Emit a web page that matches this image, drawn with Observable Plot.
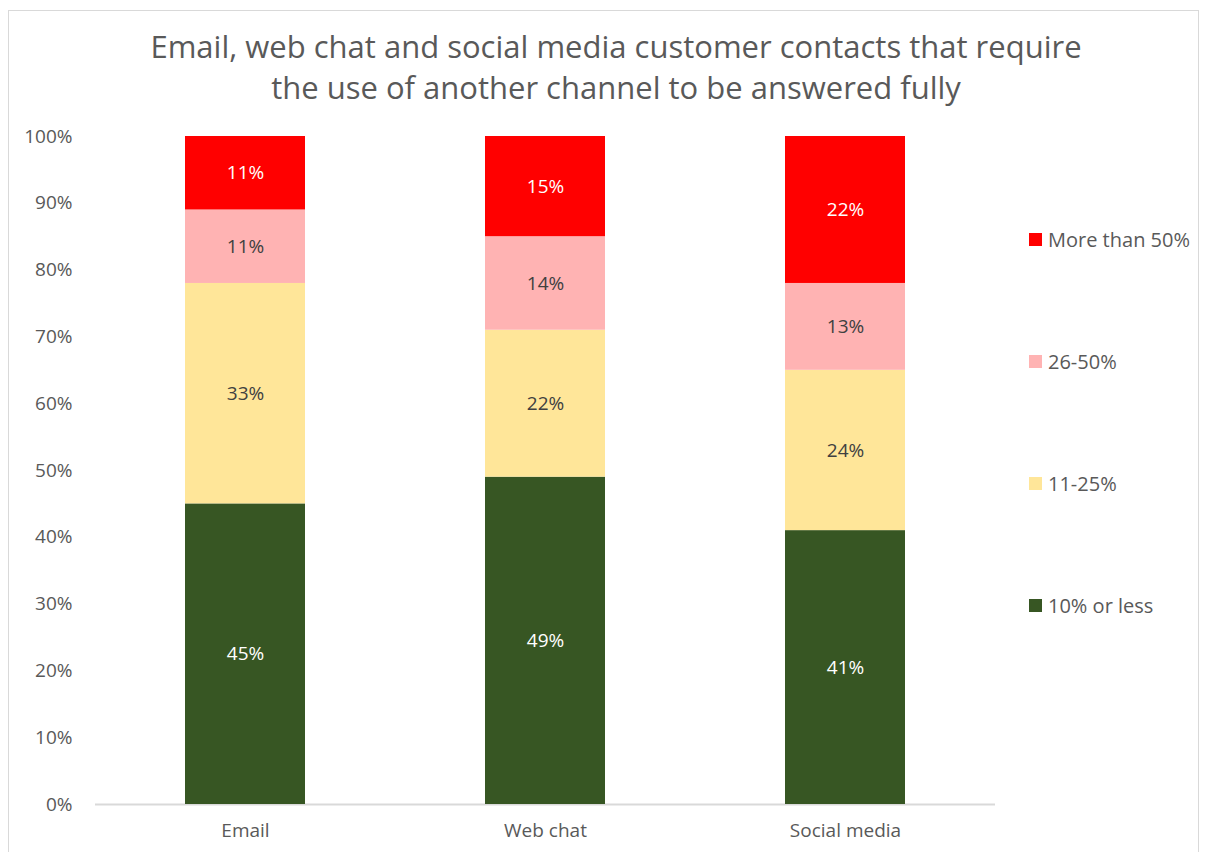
<!DOCTYPE html>
<html>
<head>
<meta charset="utf-8">
<script src="https://cdn.jsdelivr.net/npm/d3@7"></script>
<script src="https://cdn.jsdelivr.net/npm/@observablehq/plot@0.6"></script>
<style>
  html, body { margin: 0; padding: 0; background: #fff; }
  body { width: 1206px; height: 852px; position: relative; overflow: hidden; font-family: "Open Sans", sans-serif; color: #595959; }
  #frame { position: absolute; left: 8px; top: 10px; width: 1191px; height: 900px; border: 1px solid #d9d9d9; box-sizing: border-box; }
  #title { position: absolute; left: 0; top: 26px; width: 1232px; text-align: center; font-size: 31px; line-height: 41px; color: #595959; }
  #chart { position: absolute; left: 0; top: 120px; }
  #legend { position: absolute; left: 1029px; top: 0; }
  .item { position: absolute; left: 0; white-space: nowrap; font-size: 20px; display: flex; align-items: center; }
  .sw { width: 13px; height: 13px; margin-right: 6px; }
</style>
</head>
<body>
<div id="frame"></div>
<div id="title">Email, web chat and social media customer contacts that require<br>the use of another channel to be answered fully</div>
<div id="chart"></div>
<div id="legend"></div>
<script>
const categories = ["Email", "Web chat", "Social media"];
const seriesNames = ["10% or less", "11-25%", "26-50%", "More than 50%"];
const tenOrLess = [45, 49, 41];
const elevenTo25 = [33, 22, 24];
const twentySixTo50 = [11, 14, 13];
const moreThan50 = [11, 15, 22];
const seriesColors = ["#375623", "#FFE699", "#FFB3B3", "#FF0000"];
const labelColors = ["#ffffff", "#404040", "#404040", "#ffffff"];
const yTicks = [0, 10, 20, 30, 40, 50, 60, 70, 80, 90, 100];
const legendOrder = ["More than 50%", "26-50%", "11-25%", "10% or less"];
const legendTops = [240, 362, 484, 606];

const seriesValues = [tenOrLess, elevenTo25, twentySixTo50, moreThan50];
const data = [];
seriesNames.forEach((s, si) => {
  categories.forEach((c, ci) => {
    data.push({category: c, series: s, value: seriesValues[si][ci], labelColor: labelColors[si]});
  });
});

const chart = Plot.plot({
  width: 1206,
  height: 732,
  marginTop: 16,
  marginBottom: 48,
  marginLeft: 95,
  marginRight: 211,
  style: {fontFamily: "'Open Sans', sans-serif", fontSize: "19px", color: "#595959", background: "transparent"},
  x: {domain: categories, paddingInner: 0.6, paddingOuter: 0.3, label: null},
  y: {domain: [0, 100], label: null},
  color: {domain: seriesNames, range: seriesColors},
  marks: [
    Plot.ruleY([0], {stroke: "#d9d9d9", strokeWidth: 2}),
    Plot.barY(data, {x: "category", y: "value", fill: "series", order: seriesNames}),
    Plot.text(data, Plot.stackY({x: "category", y: "value", z: "series", order: seriesNames, text: d => d.value + "%", fill: "labelColor", fontSize: 19})),
    Plot.axisY({ticks: yTicks, tickSize: 0, tickPadding: 23, tickFormat: d => d + "%", fontSize: 19}),
    Plot.axisX({tickSize: 0, tickPadding: 19, fontSize: 19})
  ]
});
document.getElementById("chart").appendChild(chart);

const legend = document.getElementById("legend");
legendOrder.forEach((name, i) => {
  const idx = seriesNames.indexOf(name);
  const item = document.createElement("div");
  item.className = "item";
  item.style.top = (legendTops[i] - 14) + "px";
  const sw = document.createElement("span");
  sw.className = "sw";
  sw.style.background = seriesColors[idx];
  const lab = document.createElement("span");
  lab.textContent = name;
  item.appendChild(sw);
  item.appendChild(lab);
  legend.appendChild(item);
});
</script>
</body>
</html>
